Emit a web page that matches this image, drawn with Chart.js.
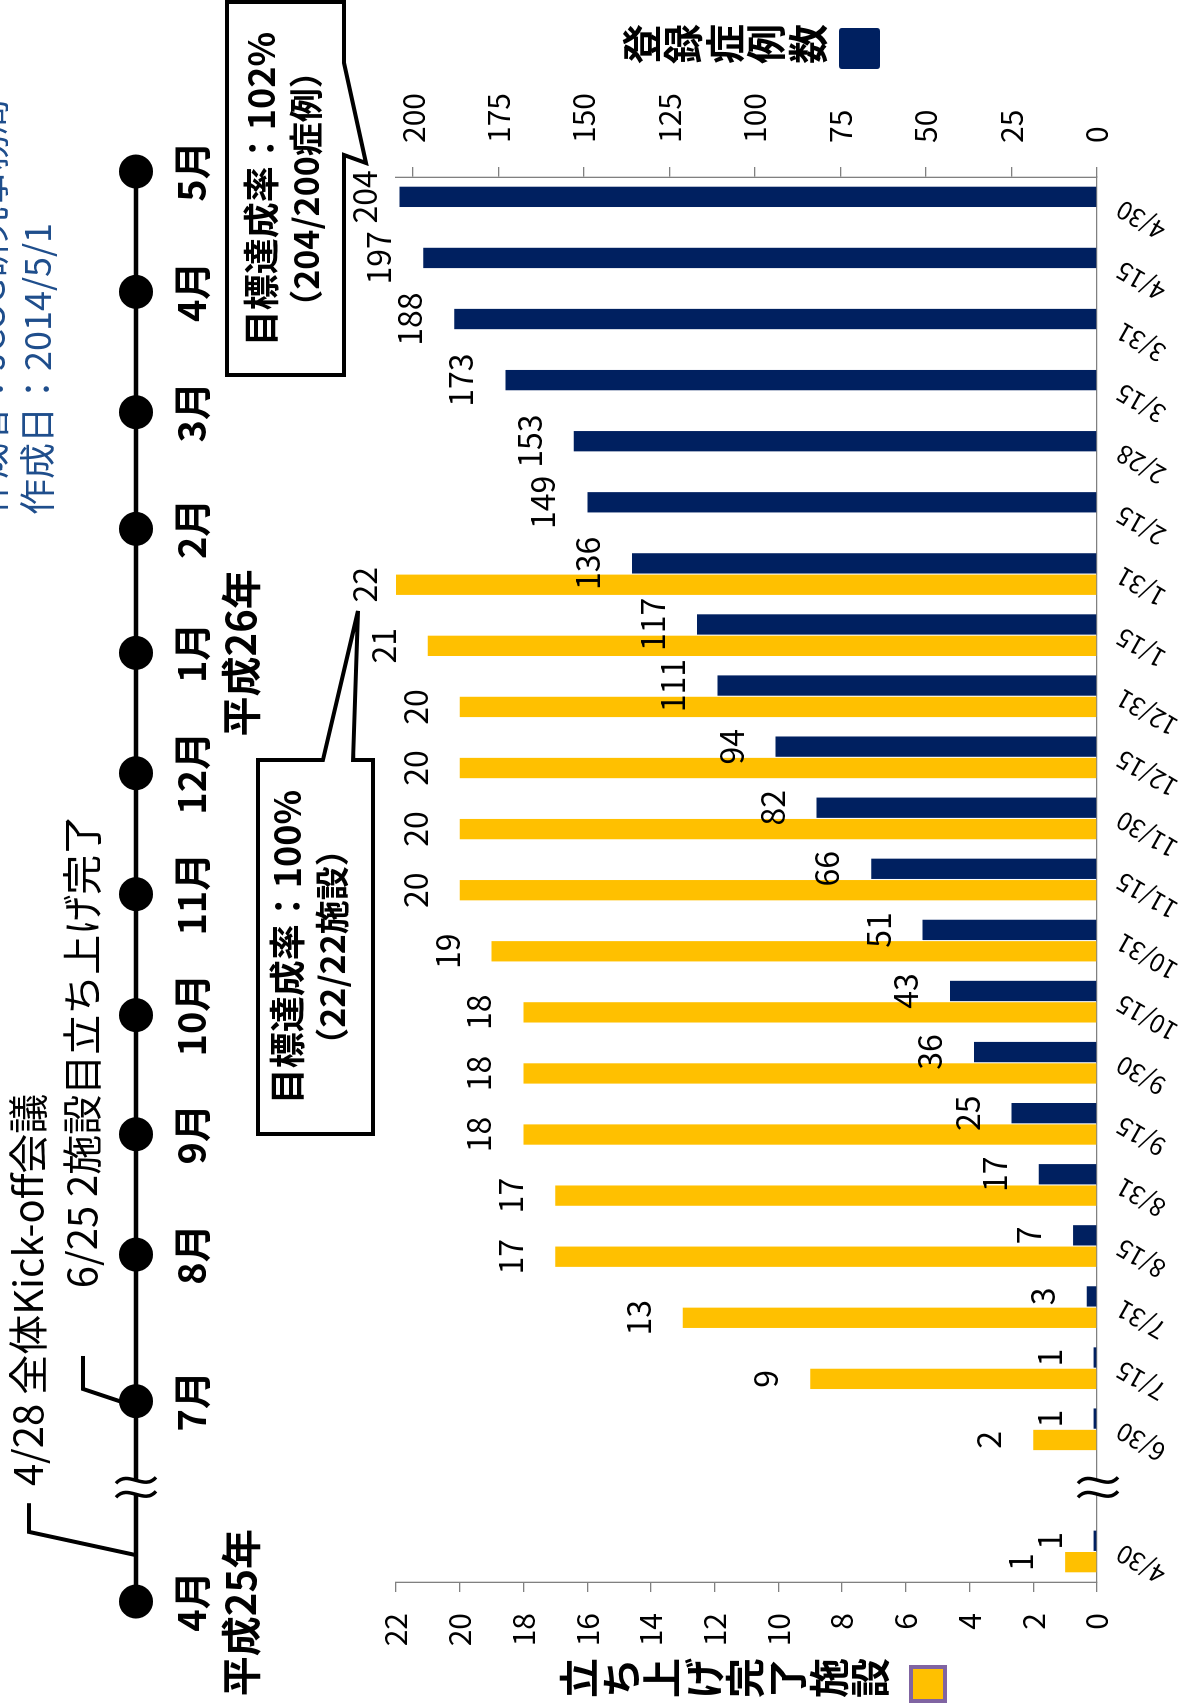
<!DOCTYPE html>
<html lang="ja">
<head>
<meta charset="utf-8">
<title>登録症例数・立ち上げ完了施設</title>
<script src="https://cdn.jsdelivr.net/npm/chart.js@4.4.1/dist/chart.umd.min.js"></script>
<style>
  html, body { margin: 0; padding: 0; background: #fff; overflow: hidden; }
  #page { position: relative; width: 1195px; height: 1706px; overflow: hidden; background: #fff; }
  /* the chart is drawn landscape and turned a quarter turn to the left */
  #wrap {
    position: absolute; left: 0; top: 0; width: 1706px; height: 1195px;
    transform-origin: 0 0; transform: translate(0, 1706px) rotate(-90deg);
  }
</style>
</head>
<body>
<div id="page"><div id="wrap"><canvas id="chart" width="1706" height="1195"></canvas></div></div>
<script>
// data
const dates = ["4/30", "", "6/30", "7/15", "7/31", "8/15", "8/31", "9/15", "9/30", "10/15", "10/31",
  "11/15", "11/30", "12/15", "12/31", "1/15", "1/31", "2/15", "2/28", "3/15", "3/31", "4/15", "4/30"];
const cases = [1, null, 1, 1, 3, 7, 17, 25, 36, 43, 51, 66, 82, 94, 111, 117, 136, 149, 153, 173, 188, 197, 204];
const sites = [1, null, 2, 9, 13, 17, 17, 18, 18, 18, 19, 20, 20, 20, 20, 21, 22, null, null, null, null, null, null];
const siteTicks = [0, 2, 4, 6, 8, 10, 12, 14, 16, 18, 20, 22];
const caseTicks = [0, 25, 50, 75, 100, 125, 150, 175, 200];

// timeline above the chart (positions in category units)
const months = ["4月", "7月", "8月", "9月", "10月", "11月", "12月", "1月", "2月", "3月", "4月", "5月"];
const monthPos = [-0.82, 2.46, 4.86, 6.83, 8.78, 10.76, 12.74, 14.71, 16.74, 18.65, 20.62, 22.59];
const years = ["平成25年", "平成26年"];
const yearPos = [-1.0, 14.71];
const breakPos = 1.05;

const FONT = "'Noto Sans CJK JP', 'Noto Sans', sans-serif";
const NAVY = "#002060";
const GOLD = "#FFC000";

function stacked(ctx, text, cx, y0, step) {
  [...text].forEach((ch, i) => ctx.fillText(ch, cx, y0 + step * (i + 0.5)));
}

function drawBreak(ctx, cx, cy) {
  ctx.save();
  ctx.fillStyle = "#fff";
  ctx.fillRect(cx - 7, cy - 19, 14, 38);
  ctx.strokeStyle = "#000";
  ctx.lineWidth = 3.5;
  [-7, 7].forEach((dx) => {
    ctx.beginPath();
    ctx.moveTo(cx + dx - 3, cy - 20);
    ctx.bezierCurveTo(cx + dx + 11, cy - 8, cx + dx - 11, cy + 8, cx + dx + 3, cy + 20);
    ctx.stroke();
  });
  ctx.restore();
}

function callout(ctx, pts, lines) {
  ctx.save();
  ctx.beginPath();
  pts.forEach(([x, y], i) => (i ? ctx.lineTo(x, y) : ctx.moveTo(x, y)));
  ctx.closePath();
  ctx.fillStyle = "#fff";
  ctx.fill();
  ctx.lineWidth = 4;
  ctx.lineJoin = "miter";
  ctx.strokeStyle = "#000";
  ctx.stroke();
  ctx.fillStyle = "#000";
  ctx.textAlign = "center";
  ctx.textBaseline = "middle";
  lines.forEach((l) => {
    ctx.font = l.font;
    ctx.fillText(l.text, l.x, l.y);
  });
  ctx.restore();
}

const decor = {
  id: "decor",
  afterDatasetsDraw(chart) {
    const { ctx, chartArea } = chart;
    ctx.save();
    ctx.font = "32px " + FONT;
    ctx.fillStyle = "#000";
    ctx.textAlign = "center";
    ctx.textBaseline = "alphabetic";
    chart.data.datasets.forEach((ds, di) => {
      chart.getDatasetMeta(di).data.forEach((bar, i) => {
        const v = ds.data[i];
        if (v === null || v === undefined) return;
        const y = Math.max(bar.y - 32, chartArea.top - 19);
        ctx.fillText(String(v), bar.x, y);
      });
    });
    ctx.restore();
  },
  afterDraw(chart) {
    const { ctx, chartArea } = chart;
    const px = (v) => chart.scales.x.getPixelForValue(v);
    ctx.save();

    // axis break on the date axis
    drawBreak(ctx, px(breakPos), chartArea.bottom + 1);

    // timeline
    const ty = 136;
    ctx.strokeStyle = "#000";
    ctx.lineWidth = 4.5;
    ctx.beginPath();
    ctx.moveTo(px(monthPos[0]), ty);
    ctx.lineTo(px(monthPos[monthPos.length - 1]), ty);
    ctx.stroke();
    ctx.fillStyle = "#000";
    monthPos.forEach((m) => {
      ctx.beginPath();
      ctx.arc(px(m), ty, 17, 0, Math.PI * 2);
      ctx.fill();
    });
    drawBreak(ctx, px(breakPos), ty);

    ctx.textAlign = "center";
    ctx.textBaseline = "middle";
    ctx.font = "bold 38px " + FONT;
    months.forEach((m, i) => ctx.fillText(m, px(monthPos[i]), 192));
    ctx.font = "bold 40px " + FONT;
    years.forEach((y, i) => ctx.fillText(y, px(yearPos[i]), 241));

    // event notes with leaders
    ctx.lineWidth = 4;
    ctx.beginPath();
    ctx.moveTo(px(-0.06), ty);
    ctx.lineTo(px(0.32), 29);
    ctx.lineTo(px(0.79), 29);
    ctx.moveTo(px(2.37), ty);
    ctx.lineTo(px(2.66), 83);
    ctx.lineTo(px(3.2), 83);
    ctx.stroke();
    ctx.textAlign = "left";
    ctx.font = "40px " + FONT;
    ctx.fillText("4/28 全体Kick-off会議", px(1.07), 28);
    ctx.fillText("6/25 2施設目立ち上げ完了", px(4.31), 82);

    // issue date (the line above it is cut off at the edge)
    ctx.fillStyle = "#1F4E8C";
    ctx.font = "36px " + FONT;
    ctx.fillText("作成者：JCOG研究事務局", 1191, -9);
    ctx.fillText("作成日：2014/5/1", 1191, 37);

    // axis titles with their keys (stacked upright)
    ctx.fillStyle = "#000";
    ctx.textAlign = "center";
    ctx.font = "bold 40px " + FONT;
    stacked(ctx, "立ち上げ完了施設", 28, 558, 41.6);
    stacked(ctx, "登録症例数", 1662, 621, 41.4);
    ctx.fillStyle = GOLD;
    ctx.fillRect(3, 909, 38, 38);
    ctx.strokeStyle = "#8064A2";
    ctx.lineWidth = 4;
    ctx.strokeRect(5, 911, 34, 34);
    ctx.fillStyle = NAVY;
    ctx.beginPath();
    ctx.roundRect(1637, 839, 41, 41, 3);
    ctx.fill();

    // target callouts
    callout(ctx,
      [[1331, 227], [1704, 227], [1704, 344], [1643, 344], [1543, 366], [1551, 344], [1331, 344]],
      [
        { text: "目標達成率：102%", x: 1517, y: 261, font: "bold 36px " + FONT },
        { text: "（204/200症例）", x: 1517, y: 306, font: "bold 34px " + FONT },
      ]);
    callout(ctx,
      [[572, 258], [946, 258], [946, 323], [1095, 358], [946, 353], [946, 373], [572, 373]],
      [
        { text: "目標達成率：100%", x: 759, y: 287, font: "bold 36px " + FONT },
        { text: "（22/22施設）", x: 759, y: 332, font: "bold 34px " + FONT },
      ]);
    ctx.restore();
  },
};

Chart.defaults.font.family = FONT;
Chart.defaults.color = "#000";

const axisLine = { display: true, color: "#808080", width: 1.3 };
const tickMarks = { drawOnChartArea: false, drawTicks: true, tickLength: 10, color: "#808080", lineWidth: 1.3 };

new Chart(document.getElementById("chart"), {
  type: "bar",
  data: {
    labels: dates,
    datasets: [
      {
        label: "立ち上げ完了施設",
        data: sites,
        yAxisID: "ySites",
        backgroundColor: GOLD,
        categoryPercentage: 0.7,
        barPercentage: 0.95,
      },
      {
        label: "登録症例数",
        data: cases,
        yAxisID: "yCases",
        backgroundColor: NAVY,
        categoryPercentage: 0.7,
        barPercentage: 0.95,
      },
    ],
  },
  options: {
    responsive: false,
    animation: false,
    devicePixelRatio: 1,
    layout: { padding: { top: 396, left: 0, right: 0, bottom: 0 } },
    plugins: { legend: { display: false }, tooltip: { enabled: false } },
    scales: {
      x: {
        offset: true,
        grid: { display: false, drawTicks: false },
        border: axisLine,
        ticks: { autoSkip: false, minRotation: 60, maxRotation: 60, padding: 14, font: { size: 25 } },
        afterFit: (s) => { s.height = 98; },
      },
      ySites: {
        position: "left",
        bounds: "data",
        min: 0,
        max: 22,
        grid: tickMarks,
        border: axisLine,
        ticks: { padding: 21, font: { size: 30 } },
        afterBuildTicks: (s) => { s.ticks = siteTicks.map((v) => ({ value: v })); },
        afterFit: (s) => { s.width = 124; },
      },
      yCases: {
        position: "right",
        bounds: "data",
        min: 0,
        max: 205,
        grid: tickMarks,
        border: axisLine,
        ticks: { padding: 24, font: { size: 30 } },
        afterBuildTicks: (s) => { s.ticks = caseTicks.map((v) => ({ value: v })); },
        afterFit: (s) => { s.width = 177; },
      },
    },
  },
  plugins: [decor],
});
</script>
</body>
</html>
